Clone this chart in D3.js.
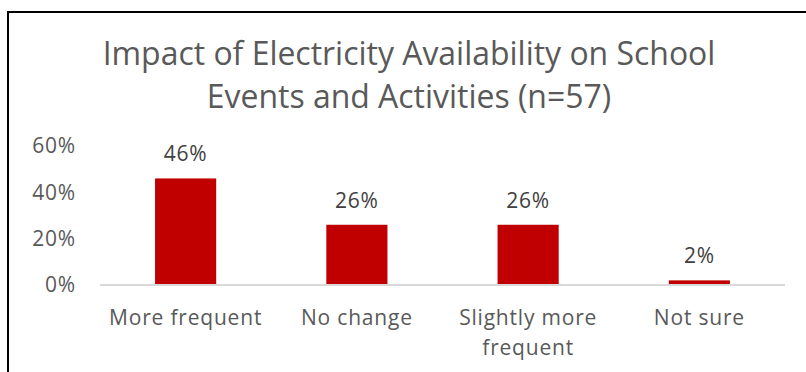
<!DOCTYPE html>
<html>
<head>
<meta charset="utf-8">
<script src="https://cdn.jsdelivr.net/npm/d3@7"></script>
<style>
  html, body { margin: 0; padding: 0; background: #fff; }
  svg { display: block; }
  text { font-family: "Open Sans", "Noto Sans", sans-serif; }
</style>
</head>
<body>
<svg id="chart" width="806" height="372"></svg>
<script>
// Chart data
const categories = ["More frequent", "No change", "Slightly more frequent", "Not sure"];
const values = [46, 26, 26, 2];
const yTicks = [0, 20, 40, 60];
const titleLines = ["Impact of Electricity Availability on School", "Events and Activities (n=57)"];

const W = 806, H = 372;
const svg = d3.select("#chart");

const labelSize = 21;
const labelSpacing = 0.8;

// Outer frame (left and top edges visible within the view)
svg.append("rect")
  .attr("x", 8).attr("y", 12)
  .attr("width", 820).attr("height", 400)
  .attr("fill", "#fff").attr("stroke", "#000").attr("stroke-width", 2);

const plot = { left: 100, right: 785, top: 146, bottom: 285 };

const x = d3.scaleBand()
  .domain(categories)
  .range([plot.left, plot.right])
  .paddingInner(0.643)
  .paddingOuter(0.3215);

const y = d3.scaleLinear()
  .domain([0, 60])
  .range([plot.bottom, plot.top]);

// Title, two centered lines
const titleCx = 409;
const title = svg.append("g");
titleLines.forEach((line, i) => {
  title.append("text")
    .attr("x", titleCx).attr("y", 65 + i * 43)
    .attr("text-anchor", "middle")
    .attr("fill", "#595959")
    .attr("font-size", 30)
    .text(line);
});
// scale title so the first line spans its intended width
const firstLen = title.select("text").node().getComputedTextLength();
const fs = Math.min(32, 30 * 613 / firstLen);
title.selectAll("text").attr("font-size", fs);

// Y axis (labels only)
const yAxis = d3.axisLeft(y)
  .tickValues(yTicks)
  .tickFormat(d => d + "%")
  .tickSize(0)
  .tickPadding(0);
const gy = svg.append("g")
  .attr("transform", `translate(76,0)`)
  .call(yAxis);
gy.select(".domain").remove();
gy.selectAll("text")
  .attr("fill", "#595959")
  .attr("font-size", labelSize)
  .attr("letter-spacing", labelSpacing)
  .attr("font-family", "\"Open Sans\", sans-serif");

// Bars
svg.append("g").selectAll("rect")
  .data(values)
  .join("rect")
  .attr("x", (d, i) => x(categories[i]))
  .attr("width", x.bandwidth())
  .attr("y", d => y(d))
  .attr("height", d => y(0) - y(d))
  .attr("fill", "#c00000");

// Baseline / category axis
const xAxis = d3.axisBottom(x).tickSize(0).tickPadding(0);
const gx = svg.append("g")
  .attr("transform", `translate(0,${y(0)})`)
  .call(xAxis);
gx.select(".domain")
  .attr("stroke", "#d9d9d9")
  .attr("stroke-width", 2)
  .attr("d", `M${plot.left},0H${plot.right}`);
gx.selectAll(".tick text")
  .attr("fill", "#595959")
  .attr("font-size", labelSize)
  .attr("letter-spacing", labelSpacing)
  .attr("font-family", "\"Open Sans\", sans-serif")
  .attr("dy", null)
  .attr("y", 40)
  .each(function(d) {
    // wrap labels to the band step width
    const maxW = x.step() - 6;
    const el = d3.select(this);
    const words = d.split(/\s+/);
    el.text(null);
    let line = [];
    let lineNo = 0;
    let tspan = el.append("tspan").attr("x", 0).attr("y", 40);
    words.forEach(w => {
      line.push(w);
      tspan.text(line.join(" "));
      if (tspan.node().getComputedTextLength() > maxW && line.length > 1) {
        line.pop();
        tspan.text(line.join(" "));
        line = [w];
        lineNo++;
        tspan = el.append("tspan").attr("x", 0).attr("y", 40 + lineNo * 30).text(w);
      }
    });
  });

// Value labels above bars
svg.append("g").selectAll("text")
  .data(values)
  .join("text")
  .attr("x", (d, i) => x(categories[i]) + x.bandwidth() / 2)
  .attr("y", d => y(d) - 17)
  .attr("text-anchor", "middle")
  .attr("fill", "#404040")
  .attr("font-size", labelSize)
  .attr("letter-spacing", labelSpacing)
  .text(d => d + "%");
</script>
</body>
</html>
